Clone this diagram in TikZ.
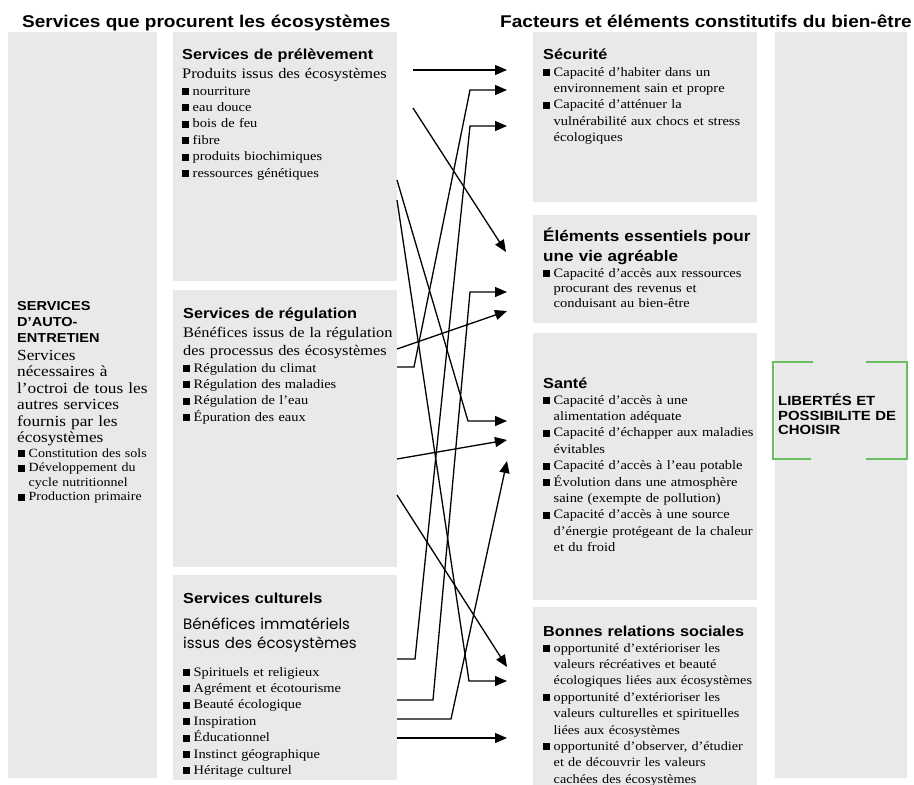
\documentclass[tikz,border=0pt]{standalone}
\usepackage{fontspec}
\setmainfont{Liberation Serif}[FakeStretch=1.12]
\newfontfamily\hsans{Liberation Sans}[FakeStretch=1.12]
\newfontfamily\comicf{Poppins}
\usetikzlibrary{arrows.meta}
\definecolor{boxgray}{RGB}{233,233,233}
\definecolor{brkgreen}{RGB}{106,190,96}
\setlength{\lineskiplimit}{-60pt}
\newcommand{\bsq}{\makebox[10.5pt][l]{\rule{7pt}{7pt}}}
\newcommand{\nl}{\hfil\break}
\newcommand{\bit}[1]{\hangindent=10.5pt\hangafter=1\relax\noindent\bsq#1\par}
\tikzset{
  box/.style={fill=boxgray, draw=none, inner sep=0pt, anchor=north west},
  txt/.style={inner sep=0pt, anchor=base west, text width=330pt},
  mtitle/.style={inner sep=0pt, anchor=base west, font=\hsans\bfseries\fontsize{17}{20}\selectfont},
  btitle/.style={txt, font=\hsans\bfseries\fontsize{14.5}{20}\selectfont},
  capsf/.style={txt, font=\hsans\bfseries\fontsize{13}{16}\selectfont},
  desc/.style={txt, font=\fontsize{14.6}{18}\selectfont},
  leftdesc/.style={txt, font=\fontsize{15.4}{16.5}\selectfont},
  leftbul/.style={txt, font=\fontsize{12.5}{14.5}\selectfont},
  bul/.style={txt, font=\fontsize{12.9}{16.4}\selectfont},
  comic/.style={txt, font=\comicf\fontsize{15}{19}\selectfont},
  brk/.style={draw=brkgreen, line width=1.8pt},
  conn/.style={line width=1.3pt, -{Triangle[length=12pt,width=10pt]}},
}
\begin{document}
\begin{tikzpicture}[x=1pt,y=-1pt]
\useasboundingbox (0,0) rectangle (914,785);
% titles
\node[mtitle] (tleft) at (22,27) {Services que procurent les écosystèmes};
\node[mtitle] (tright) at (500,27) {Facteurs et éléments constitutifs du bien-être};
% boxes
\node[box, minimum width=149pt, minimum height=746pt] (auto) at (8,32) {};
\node[box, minimum width=224pt, minimum height=249pt] (prel) at (173,32) {};
\node[box, minimum width=224pt, minimum height=277pt] (regu) at (173,290) {};
\node[box, minimum width=224pt, minimum height=205pt] (cult) at (173,575) {};
\node[box, minimum width=224pt, minimum height=170pt] (secu) at (533,32) {};
\node[box, minimum width=224pt, minimum height=108pt] (elem) at (533,215) {};
\node[box, minimum width=224pt, minimum height=267pt] (sante) at (533,333) {};
\node[box, minimum width=224pt, minimum height=190pt] (bonnes) at (533,607) {};
\node[box, minimum width=132pt, minimum height=746pt] (libre) at (775,32) {};
% left box text
\node[capsf] (autot) at (17,310) {SERVICES\nl D’AUTO-\nl ENTRETIEN};
\node[leftdesc] (autod) at (17,360) {Services\nl nécessaires à\nl l’octroi de tous les\nl autres services\nl fournis par les\nl écosystèmes};
\node[leftbul] (autob) at (18,457) {\bit{Constitution des sols}\bit{Développement du\nl cycle nutritionnel}\bit{Production primaire}};
% prélèvement
\node[btitle] (prelt) at (182,59) {Services de prélèvement};
\node[desc] (preld) at (182,78) {Produits issus des écosystèmes};
\node[bul] (prelb) at (182,95) {\bit{nourriture}\bit{eau douce}\bit{bois de feu}\bit{fibre}\bit{produits biochimiques}\bit{ressources génétiques}};
% régulation
\node[btitle] (regut) at (183,318) {Services de régulation};
\node[desc] (regud) at (183,337) {Bénéfices issus de la régulation\nl des processus des écosystèmes};
\node[bul] (regub) at (183,372) {\bit{Régulation du climat}\bit{Régulation des maladies}\bit{Régulation de l’eau}\bit{Épuration des eaux}};
% culturels
\node[btitle] (cultt) at (183,603) {Services culturels};
\node[comic] (cultd) at (183,629) {Bénéfices immatériels\nl issus des écosystèmes};
\node[bul] (cultb) at (183,676) {\bit{Spirituels et religieux}\bit{Agrément et écotourisme}\bit{Beauté écologique}\bit{Inspiration}\bit{Éducationnel}\bit{Instinct géographique}\bit{Héritage culturel}};
% sécurité
\node[btitle] (secut) at (543,59) {Sécurité};
\node[bul] (secub) at (543,76) {\bit{Capacité d’habiter dans un\nl environnement sain et propre}\bit{Capacité d’atténuer la\nl vulnérabilité aux chocs et stress\nl écologiques}};
% éléments
\node[btitle, font=\hsans\bfseries\fontsize{15.3}{20}\selectfont] (elemt) at (543,241) {Éléments essentiels pour\nl une vie agréable};
\node[bul, font=\fontsize{12.9}{15}\selectfont] (elemb) at (543,277) {\bit{Capacité d’accès aux ressources\nl procurant des revenus et\nl conduisant au bien-être}};
% santé
\node[btitle] (santet) at (543,388) {Santé};
\node[bul] (santeb) at (543,404) {\bit{Capacité d’accès à une\nl alimentation adéquate}\bit{Capacité d’échapper aux maladies\nl évitables}\bit{Capacité d’accès à l’eau potable}\bit{Évolution dans une atmosphère\nl saine (exempte de pollution)}\bit{Capacité d’accès à une source\nl d’énergie protégeant de la chaleur\nl et du froid}};
% bonnes relations
\node[btitle] (bonnest) at (543,636) {Bonnes relations sociales};
\node[bul, font=\fontsize{12.7}{16.4}\selectfont] (bonnesb) at (543,652) {\bit{opportunité d’extérioriser les\nl valeurs récréatives et beauté\nl écologiques liées aux écosystèmes}\bit{opportunité d’extérioriser les\nl valeurs culturelles et spirituelles\nl liées aux écosystèmes}\bit{opportunité d’observer, d’étudier\nl et de découvrir les valeurs\nl cachées des écosystèmes}};
% libertés
\node[txt, font=\hsans\bfseries\fontsize{13.3}{14.3}\selectfont] (libret) at (778,405.7) {LIBERTÉS ET\nl POSSIBILITE DE\nl CHOISIR};
\draw[brk] (813,362) -- (773,362) -- (773,459) -- (811,459);
\draw[brk] (866,362) -- (907,362) -- (907,459) -- (866,459);
% connector ends
\coordinate (p1) at (413,70);
\coordinate (p2) at (413,108);
\coordinate (p3) at (397,180);
\coordinate (p4) at (397,200);
\coordinate (r1) at (397,349);
\coordinate (r2) at (397,367);
\coordinate (r3) at (397,459);
\coordinate (r4) at (397,495);
\coordinate (c1) at (397,659);
\coordinate (c2) at (397,700);
\coordinate (c3) at (397,719);
\coordinate (c4) at (397,738);
\coordinate (s1) at (507,70);
\coordinate (s2) at (507,90);
\coordinate (s3) at (507,126);
\coordinate (e1) at (506,252);
\coordinate (e2) at (507,292);
\coordinate (e3) at (507,311);
\coordinate (h1) at (507,421);
\coordinate (h2) at (507,440);
\coordinate (h3) at (507,461);
\coordinate (b1) at (507,667);
\coordinate (b2) at (507,681);
\coordinate (b3) at (507,738);
% connectors
\draw[conn] (p1) -- (s1);
\draw[conn] (r2) -- ++(17,0) -- ([xshift=-37pt]s2) -- (s2);
\draw[conn] (c1) -- ++(18,0) -- ([xshift=-37pt]s3) -- (s3);
\draw[conn] (p2) -- (e1);
\draw[conn] (c2) -- ++(36,0) -- ([xshift=-37pt]e2) -- (e2);
\draw[conn] (r1) -- (e3);
\draw[conn] (p3) -- ([xshift=-39pt]h1) -- (h1);
\draw[conn] (r3) -- (h2);
\draw[conn] (c3) -- ++(54,0) -- (h3);
\draw[conn] (r4) -- (b1);
\draw[conn] (p4) -- ([xshift=-38pt]b2) -- (b2);
\draw[conn] (c4) -- (b3);
\end{tikzpicture}
\end{document}
